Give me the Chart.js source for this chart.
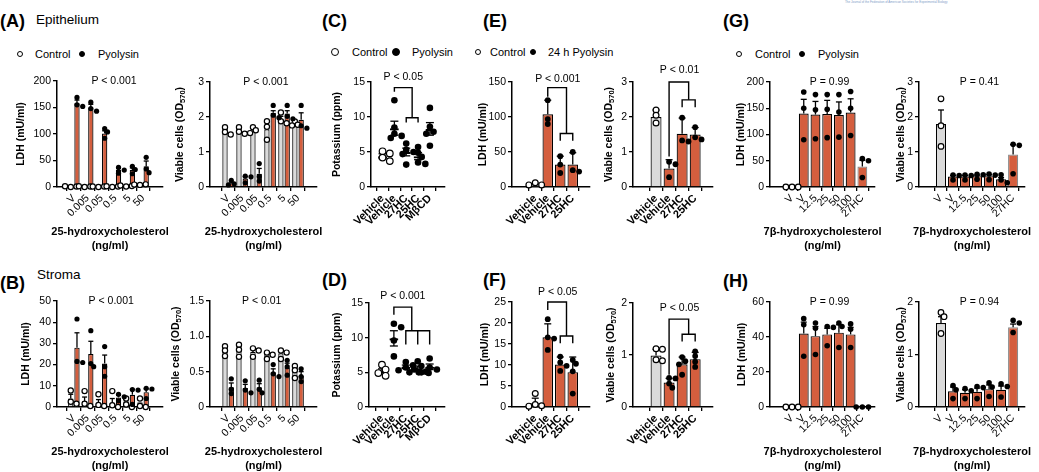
<!DOCTYPE html>
<html>
<head>
<meta charset="utf-8">
<script src="https://cdn.jsdelivr.net/npm/chart.js@4.4.0/dist/chart.umd.min.js"></script>
<style>
body { margin: 0; background: #fff; }
#fig { position: relative; width: 1039px; height: 472px; overflow: hidden; font-family: "Liberation Sans", Arial, sans-serif; color: #000; }
#fig canvas { position: absolute; }
.t { position: absolute; white-space: nowrap; line-height: 1; }
.lab { font-weight: bold; font-size: 18px; }
.sub { font-size: 13.5px; }
.leg { font-size: 11px; }
.mk { position: absolute; border-radius: 50%; border: 1.3px solid #000; box-sizing: border-box; }
</style>
</head>
<body>
<div id="fig">
  <div class="t" style="left:845px;top:1px;font-size:3px;color:#7f9cc8">The Journal of the Federation of American Societies for Experimental Biology</div>

  <div class="t lab" style="left:0;top:12px">(A)</div>
  <div class="t sub" style="left:36px;top:13px">Epithelium</div>
  <div class="t lab" style="left:0;top:274px">(B)</div>
  <div class="t sub" style="left:37px;top:268px">Stroma</div>
  <div class="t lab" style="left:322px;top:12px">(C)</div>
  <div class="t lab" style="left:322px;top:271px">(D)</div>
  <div class="t lab" style="left:483px;top:12px">(E)</div>
  <div class="t lab" style="left:483px;top:271px">(F)</div>
  <div class="t lab" style="left:723px;top:12px">(G)</div>
  <div class="t lab" style="left:723px;top:272px">(H)</div>

  <span class="mk" style="left:17px;top:51px;width:6px;height:6px"></span>
  <div class="t leg" style="left:35px;top:49px">Control</div>
  <span class="mk" style="left:79px;top:51px;width:6px;height:6px;background:#000"></span>
  <div class="t leg" style="left:98px;top:49px">Pyolysin</div>

  <span class="mk" style="left:331px;top:48px;width:8px;height:8px"></span>
  <div class="t leg" style="left:352px;top:47px">Control</div>
  <span class="mk" style="left:392px;top:48px;width:8px;height:8px;background:#000"></span>
  <div class="t leg" style="left:412px;top:47px">Pyolysin</div>

  <span class="mk" style="left:475px;top:49px;width:6px;height:6px"></span>
  <div class="t leg" style="left:490px;top:47px">Control</div>
  <span class="mk" style="left:530px;top:49px;width:6px;height:6px;background:#000"></span>
  <div class="t leg" style="left:548px;top:47px">24 h Pyolysin</div>

  <span class="mk" style="left:736px;top:51px;width:6px;height:6px"></span>
  <div class="t leg" style="left:755px;top:49px">Control</div>
  <span class="mk" style="left:799px;top:51px;width:6px;height:6px;background:#000"></span>
  <div class="t leg" style="left:818px;top:49px">Pyolysin</div>
</div>
<script>
// tick labels
const doseLabels = ['V', '0.005', '0.05', '0.5', '5', '50'];
const drugLabels = ['Vehicle', 'Vehicle', '27HC', '25HC', 'M\u03b2CD'];
const sterolLabels = ['Vehicle', 'Vehicle', '27HC', '25HC'];
const sevenLabels = ['V', 'V', '12.5', '25', '50', '100', '27HC'];

// (A) epithelium LDH
const aLdhCtrl = [1, 1, 1, 1, 2, 4.5];
const aLdhCtrlErr = [0.5, 0.5, 0.5, 0.5, 1, 1];
const aLdhCtrlPts = [[0, 1, 1.5], [0, 1, 1.5], [0, 1, 1], [0, 1, 1.5], [1, 2, 3], [4, 5, 4.5]];
const aLdhPyo = [158, 150, 101, 32, 32, 39];
const aLdhPyoErr = [6, 6, 5, 4, 4, 10];
const aLdhPyoPts = [[169, 155, 152], [160, 148, 143], [110, 104, 92], [37, 32, 26], [39, 33, 25], [56, 34, 27]];
// (A) epithelium viability
const aVivCtrl = [1.59, 1.6, 1.62, 1.65, 1.94, 1.8];
const aVivCtrlErr = [0.05, 0.05, 0.05, 0.2, 0.08, 0.05];
const aVivCtrlPts = [[1.71, 1.57, 1.5], [1.71, 1.58, 1.52], [1.71, 1.62, 1.54], [1.88, 1.72, 1.35], [2.13, 1.88, 1.82], [1.87, 1.78, 1.76]];
const aVivPyo = [0.11, 0.24, 0.38, 2.12, 2.1, 1.92];
const aVivPyoErr = [0.03, 0.06, 0.15, 0.06, 0.08, 0.2];
const aVivPyoPts = [[0.19, 0.09, 0.06], [0.31, 0.29, 0.12], [0.67, 0.3, 0.17], [2.33, 2.05, 1.98], [2.33, 2.02, 1.95], [2.33, 1.75, 1.68]];

// (B) stroma LDH
const bLdhCtrl = [4, 2.7, 2, 2, 1.3, 0.8];
const bLdhCtrlErr = [2, 2, 1.5, 2, 1, 1];
const bLdhCtrlPts = [[7.8, 2.5, 1.5], [7.5, 1.5, 0.5], [6, 1, 0.5], [7.5, 0.8, 0], [4, 1.2, 0], [4, 0.5, 0]];
const bLdhPyo = [28, 25, 20.5, 4.5, 5.8, 7];
const bLdhPyoErr = [7, 6, 4, 1, 2.5, 1.5];
const bLdhPyoPts = [[41.5, 21.5, 21], [36, 20.5, 19], [28.5, 19, 14.5], [6, 4.8, 2.9], [8.2, 8, 1.2], [8.8, 8.5, 4]];
// (B) stroma viability
const bVivCtrl = [0.79, 0.8, 0.78, 0.75, 0.76, 0.5];
const bVivCtrlErr = [0.04, 0.05, 0.04, 0.03, 0.04, 0.05];
const bVivCtrlPts = [[0.86, 0.8, 0.72], [0.88, 0.81, 0.71], [0.83, 0.8, 0.71], [0.77, 0.74, 0.68], [0.8, 0.77, 0.68], [0.58, 0.52, 0.41]];
const bVivPyo = [0.28, 0.27, 0.28, 0.49, 0.56, 0.44];
const bVivPyoErr = [0.06, 0.05, 0.05, 0.05, 0.06, 0.06];
const bVivPyoPts = [[0.4, 0.25, 0.19], [0.37, 0.24, 0.2], [0.38, 0.25, 0.2], [0.6, 0.47, 0.43], [0.66, 0.57, 0.45], [0.54, 0.43, 0.36]];

// (C) epithelium potassium
const cMean = [4.4, 8.4, 5.0, 4.4, 8.3];
const cErr = [0.35, 1.0, 0.55, 0.5, 0.9];
const cPts = [[5.1, 4.8, 4.2, 3.7], [12.4, 8.5, 7.6, 7.3, 7.0], [6.2, 5.3, 5.0, 4.7, 3.2], [5.7, 4.9, 4.3, 3.5, 3.3], [11.3, 8.6, 7.9, 7.6, 5.9]];
// (D) stroma potassium
const dMean = [5.2, 9.9, 5.8, 5.6, 5.8];
const dErr = [0.3, 1.1, 0.25, 0.3, 0.4];
const dPts = [[6.1, 5.4, 4.9, 4.5], [12.0, 11.5, 9.6, 7.3], [6.5, 6.0, 5.7, 5.3, 5.0], [6.6, 5.9, 5.4, 5.0, 4.9], [7.0, 5.7, 5.4, 5.1, 5.0]];

// (E) epithelium, oxysterols
const eLdh = [4, 104, 32, 32];
const eLdhErr = [1.5, 20, 12, 17];
const eLdhPts = [[6, 3, 3], [124, 97, 90], [44, 32, 20], [50, 24, 22]];
const eViv = [2.0, 0.53, 1.52, 1.5];
const eVivErr = [0.2, 0.25, 0.45, 0.2];
const eVivPts = [[2.2, 2.05, 1.83], [0.72, 0.65, 0.28], [1.98, 1.33, 1.3], [1.71, 1.42, 1.36]];
// (F) stroma, oxysterols
const fLdh = [0.9, 16.6, 10.1, 8.3];
const fLdhErr = [1.2, 3.2, 1.8, 3.6];
const fLdhPts = [[3.2, 0.6, 0.3, 0.2], [20.9, 16.6, 16.3, 13.6], [12.0, 10.6, 9.8, 8.6], [11.2, 10.3, 8.5, 3.2]];
const fViv = [0.99, 0.47, 0.82, 0.92];
const fVivErr = [0.12, 0.08, 0.14, 0.13];
const fVivPts = [[1.12, 1.11, 0.91, 0.89], [0.56, 0.55, 0.45, 0.37], [0.96, 0.88, 0.82, 0.62], [1.07, 0.98, 0.87, 0.77]];

// (G) epithelium, 7b-hydroxycholesterol
const gLdh = [0, 140, 138, 139, 137, 142, 39];
const gLdhErr = [0, 27, 25, 26, 25, 26, 12];
const gLdhPts = [[0, 0, 0], [181, 150, 90], [176, 147, 92], [176, 148, 94], [176, 143, 95], [182, 150, 98], [54, 50, 18]];
const gViv = [1.8, 0.3, 0.3, 0.31, 0.31, 0.22, 0.93];
const gVivErr = [0.4, 0.03, 0.03, 0.03, 0.04, 0.05, 0.28];
const gVivPts = [[2.52, 1.75, 1.16], [0.34, 0.33, 0.2], [0.34, 0.33, 0.2], [0.36, 0.35, 0.22], [0.37, 0.34, 0.21], [0.35, 0.2, 0.12], [1.22, 1.19, 0.38]];
// (H) stroma, 7b-hydroxycholesterol
const hLdh = [0, 42, 40.5, 41.5, 42.5, 41.5, 0];
const hLdhErr = [0, 6.5, 5.5, 3.5, 4.5, 4, 0];
const hLdhPts = [[0, 0, 0], [50.5, 47, 29], [48, 45, 30], [46, 45.5, 35], [48, 46, 34], [47.5, 44.5, 34], [0, 0, 0]];
const hViv = [1.6, 0.3, 0.27, 0.29, 0.34, 0.33, 1.52];
const hVivErr = [0.12, 0.08, 0.06, 0.07, 0.08, 0.07, 0.06];
const hVivPts = [[1.8, 1.72, 1.4], [0.41, 0.33, 0.16], [0.35, 0.31, 0.16], [0.39, 0.37, 0.16], [0.46, 0.38, 0.2], [0.44, 0.39, 0.19], [1.65, 1.6, 1.42]];

const ORANGE = '#d45e3e';
const GREY = '#dadada';
const FONT = '"Liberation Sans", Arial, sans-serif';
const fig = document.getElementById('fig');
Chart.defaults.font.family = FONT;
Chart.defaults.color = '#000';

const firstGrey = n => [GREY].concat(Array(n - 1).fill(ORANGE));
const firstOpen = n => [true].concat(Array(n - 1).fill(false));

// place overlapping points side by side, like a column scatter
function spread(py, r) {
  const placed = [];
  return py.map(y => {
    for (let k = 0; k < 9; k++) {
      const off = (k % 2 ? 1 : -1) * Math.ceil(k / 2) * r * 1.1;
      if (placed.every(p => Math.hypot(p[0] - off, p[1] - y) >= 1.6 * r)) {
        placed.push([off, y]);
        return off;
      }
    }
    placed.push([0, y]);
    return 0;
  });
}

const marks = {
  id: 'marks',
  afterDatasetsDraw(chart, args, o) {
    const ctx = chart.ctx, xs = chart.scales.x, ys = chart.scales.y, a = chart.chartArea;
    const seg = pts => {
      ctx.beginPath();
      pts.forEach((p, k) => k ? ctx.lineTo(p[0], p[1]) : ctx.moveTo(p[0], p[1]));
      ctx.stroke();
    };
    const metas = chart.data.datasets.map((ds, di) => chart.getDatasetMeta(di));
    ctx.save();
    ctx.strokeStyle = '#000';
    ctx.lineWidth = 1.3;
    // error bars
    chart.data.datasets.forEach((ds, di) => metas[di].data.forEach((bar, i) => {
      const e = ds.err[i], m = ds.data[i].y;
      if (!e) return;
      const top = ys.getPixelForValue(m + e), lo = ys.getPixelForValue(o.both ? m - e : m);
      ctx.lineWidth = 1.3;
      seg([[bar.x, lo], [bar.x, top]]);
      seg([[bar.x - o.cap, top], [bar.x + o.cap, top]]);
      if (o.both) seg([[bar.x - o.cap, lo], [bar.x + o.cap, lo]]);
    }));
    // individual values
    chart.data.datasets.forEach((ds, di) => metas[di].data.forEach((bar, i) => {
      const open = Array.isArray(ds.open) ? ds.open[i] : ds.open;
      const py = ds.pts[i].map(v => ys.getPixelForValue(v));
      const offs = spread(py, o.r);
      py.forEach((y, k) => {
        ctx.beginPath();
        ctx.arc(bar.x + offs[k], y, o.r, 0, Math.PI * 2);
        ctx.fillStyle = open ? '#fff' : '#000';
        ctx.fill();
        if (open) { ctx.lineWidth = 1.2; ctx.stroke(); }
      });
    }));
    // comparison brackets
    ctx.lineWidth = 1.4;
    (o.brackets || []).forEach(b => seg(b.map(p => [xs.getPixelForValue(p[0]), ys.getPixelForValue(p[1])])));
    // P value
    ctx.fillStyle = '#000';
    ctx.textBaseline = 'middle';
    ctx.textAlign = 'center';
    ctx.font = '10.5px ' + FONT;
    ctx.fillText(o.p.text, xs.getPixelForValue(o.p.x), ys.getPixelForValue(o.p.y));
    // x title
    ctx.font = 'bold 11px ' + FONT;
    (o.xTitle || []).forEach((t, k) => ctx.fillText(t, (a.left + a.right) / 2, a.bottom + 45 + k * 13.5));
    // y title (with subscript)
    const yt = o.yTitle;
    ctx.translate(a.left - yt.off, (a.top + a.bottom) / 2);
    ctx.rotate(-Math.PI / 2);
    const fMain = 'bold 10.5px ' + FONT, fSub = 'bold 7.5px ' + FONT;
    ctx.font = fMain;
    const w1 = ctx.measureText(yt.text).width, w3 = yt.sub ? ctx.measureText(')').width : 0;
    ctx.font = fSub;
    const w2 = yt.sub ? ctx.measureText(yt.sub).width : 0;
    let x = -(w1 + w2 + w3) / 2;
    ctx.textAlign = 'left';
    ctx.font = fMain;
    ctx.fillText(yt.text, x, 0);
    if (yt.sub) {
      x += w1;
      ctx.font = fSub;
      ctx.fillText(yt.sub, x, 3);
      x += w2;
      ctx.font = fMain;
      ctx.fillText(')', x, 0);
    }
    ctx.restore();
  }
};

function makeChart(o) {
  const L = 60, T = 34, R = 12, B = 80;
  const [x0, x1, y0, y1] = o.box;
  const w = x1 - x0 + L + R, h = y1 - y0 + T + B;
  const cv = document.createElement('canvas');
  cv.width = w; cv.height = h;
  cv.style.left = (x0 - L) + 'px';
  cv.style.top = (y0 - T) + 'px';
  cv.style.width = w + 'px';
  cv.style.height = h + 'px';
  fig.appendChild(cv);

  const datasets = o.series.map(s => ({
    data: s.means.map((v, i) => ({ x: i, y: v })),
    backgroundColor: o.dots ? 'rgba(0,0,0,0)' : s.fill,
    borderColor: s.edge || '#000',
    borderWidth: o.dots ? { top: 2, left: 0, right: 0, bottom: 0 } : 1.2,
    borderSkipped: o.dots ? false : 'start',
    barPercentage: o.barPct,
    categoryPercentage: o.catPct,
    err: s.err, pts: s.pts, open: s.open
  }));

  new Chart(cv, {
    type: 'bar',
    data: { datasets },
    options: {
      responsive: false,
      animation: false,
      layout: { padding: { left: 0, top: T, right: R, bottom: 0 } },
      plugins: {
        legend: { display: false },
        tooltip: { enabled: false },
        marks: {
          both: !!o.dots, cap: o.cap, r: o.r, p: o.p,
          brackets: o.brackets, yTitle: o.yTitle, xTitle: o.xTitle
        }
      },
      scales: {
        x: {
          type: 'linear', bounds: 'data', min: o.xr[0], max: o.xr[1],
          afterBuildTicks: s => { s.ticks = o.labels.map((_, i) => ({ value: i })); },
          afterFit: s => { s.height = B; },
          ticks: {
            autoSkip: false, minRotation: 45, maxRotation: 45, padding: 1,
            font: { size: o.boldTicks ? 11 : 10.5, weight: o.boldTicks ? 'bold' : 'normal' },
            callback: v => o.labels[v]
          },
          grid: { drawOnChartArea: false, drawTicks: true, tickLength: 4, color: '#000', lineWidth: 1.3 },
          border: { color: '#000', width: 1.5 }
        },
        y: {
          min: 0, max: o.yMax,
          afterFit: s => { s.width = L; },
          ticks: {
            stepSize: o.yStep, padding: 2, font: { size: 10.5 },
            callback: v => (o.dec && v !== 0) ? v.toFixed(1) : v
          },
          grid: { drawOnChartArea: false, drawTicks: true, tickLength: 4, color: '#000', lineWidth: 1.3 },
          border: { color: '#000', width: 1.5 }
        }
      }
    },
    plugins: [marks]
  });
}

const hcTitle = ['25-hydroxycholesterol', '(ng/ml)'];
const bhcTitle = ['7\u03b2-hydroxycholesterol', '(ng/ml)'];
const ldhTitle = off => ({ text: 'LDH (mU/ml)', off });
const vivTitle = off => ({ text: 'Viable cells (OD', sub: '570', off });
const grouped = { catPct: 0.9, barPct: 0.85, cap: 2.5, r: 2.6 };
const single = { catPct: 1, barPct: 0.84, cap: 3.5, r: 2.9 };

// (A)
makeChart(Object.assign({}, grouped, {
  box: [57, 163, 81, 187], xr: [-0.58, 5.8], labels: doseLabels, yMax: 200, yStep: 50,
  series: [
    { means: aLdhCtrl, err: aLdhCtrlErr, pts: aLdhCtrlPts, fill: GREY, open: true },
    { means: aLdhPyo, err: aLdhPyoErr, pts: aLdhPyoPts, fill: ORANGE, open: false }
  ],
  p: { text: 'P < 0.001', x: 2.9, y: 200 }, yTitle: ldhTitle(36), xTitle: hcTitle
}));
makeChart(Object.assign({}, grouped, {
  box: [210, 317, 82, 187], xr: [-0.66, 5.72], labels: doseLabels, yMax: 3, yStep: 1,
  series: [
    { means: aVivCtrl, err: aVivCtrlErr, pts: aVivCtrlPts, fill: GREY, open: true },
    { means: aVivPyo, err: aVivPyoErr, pts: aVivPyoPts, fill: ORANGE, open: false }
  ],
  p: { text: 'P < 0.001', x: 2.7, y: 3 }, yTitle: vivTitle(30), xTitle: hcTitle
}));
// (B)
makeChart(Object.assign({}, grouped, {
  box: [57, 163, 301, 407], xr: [-0.58, 5.8], labels: doseLabels, yMax: 50, yStep: 10,
  series: [
    { means: bLdhCtrl, err: bLdhCtrlErr, pts: bLdhCtrlPts, fill: GREY, open: true },
    { means: bLdhPyo, err: bLdhPyoErr, pts: bLdhPyoPts, fill: ORANGE, open: false }
  ],
  p: { text: 'P < 0.001', x: 2.7, y: 50 }, yTitle: ldhTitle(31), xTitle: hcTitle
}));
makeChart(Object.assign({}, grouped, {
  box: [210, 317, 301, 407], xr: [-0.66, 5.72], labels: doseLabels, yMax: 1.5, yStep: 0.5, dec: true,
  series: [
    { means: bVivCtrl, err: bVivCtrlErr, pts: bVivCtrlPts, fill: GREY, open: true },
    { means: bVivPyo, err: bVivPyoErr, pts: bVivPyoPts, fill: ORANGE, open: false }
  ],
  p: { text: 'P < 0.01', x: 2.4, y: 1.5 }, yTitle: vivTitle(34), xTitle: hcTitle
}));
// (C) and (D)
makeChart({
  box: [371, 445, 82, 187], xr: [-0.35, 4.65], labels: drugLabels, yMax: 15, yStep: 5,
  dots: true, catPct: 1, barPct: 0.75, cap: 4, r: 3.3, boldTicks: true,
  series: [{ means: cMean, err: cErr, pts: cPts, open: firstOpen(5) }],
  brackets: [[[1, 13.6], [1, 14.2], [2.5, 14.2], [2.5, 9.9]], [[2, 9.2], [2, 9.9], [3, 9.9], [3, 9.2]]],
  p: { text: 'P < 0.05', x: 1.75, y: 15.7 }, yTitle: { text: 'Potassium (ppm)', off: 34 }
});
makeChart({
  box: [369, 445, 303, 407], xr: [-0.45, 4.65], labels: drugLabels, yMax: 15, yStep: 5,
  dots: true, catPct: 1, barPct: 0.75, cap: 4, r: 3.3, boldTicks: true,
  series: [{ means: dMean, err: dErr, pts: dPts, open: firstOpen(5) }],
  brackets: [[[1, 13.3], [1, 14.4], [2.5, 14.4], [2.5, 11.0]], [[2, 9.0], [2, 11.0], [4, 11.0], [4, 9.0]], [[3, 11.0], [3, 9.0]]],
  p: { text: 'P < 0.001', x: 1.75, y: 16.0 }, yTitle: { text: 'Potassium (ppm)', off: 32 }
});
// (E)
makeChart(Object.assign({}, single, {
  box: [512, 590, 82, 187], xr: [-1.08, 3.6], labels: sterolLabels, yMax: 150, yStep: 50, boldTicks: true,
  series: [{ means: eLdh, err: eLdhErr, pts: eLdhPts, fill: firstGrey(4), open: firstOpen(4) }],
  brackets: [[[1, 129], [1, 142], [2.5, 142], [2.5, 76.5]], [[2, 66], [2, 76.5], [3, 76.5], [3, 66]]],
  p: { text: 'P < 0.001', x: 1.8, y: 154 }, yTitle: ldhTitle(29)
}));
makeChart(Object.assign({}, single, {
  box: [633, 713, 82, 187], xr: [-1.0, 3.6], labels: sterolLabels, yMax: 3, yStep: 1, boldTicks: true,
  series: [{ means: eViv, err: eVivErr, pts: eVivPts, fill: firstGrey(4), open: firstOpen(4) }],
  brackets: [[[1, 0.87], [1, 3.0], [2.5, 3.0], [2.5, 2.49]], [[2, 2.28], [2, 2.49], [3, 2.49], [3, 2.28]]],
  p: { text: 'P < 0.01', x: 1.8, y: 3.33 }, yTitle: vivTitle(24)
}));
// (F)
makeChart(Object.assign({}, single, {
  box: [512, 590, 302, 407], xr: [-1.08, 3.6], labels: sterolLabels, yMax: 25, yStep: 5, boldTicks: true,
  series: [{ means: fLdh, err: fLdhErr, pts: fLdhPts, fill: firstGrey(4), open: firstOpen(4) }],
  brackets: [[[1, 23.1], [1, 25], [2.5, 25], [2.5, 16.9]], [[2, 15.2], [2, 16.9], [3, 16.9], [3, 15.2]]],
  p: { text: 'P < 0.05', x: 1.8, y: 27.4 }, yTitle: ldhTitle(27)
}));
makeChart(Object.assign({}, single, {
  box: [633, 713, 303, 407], xr: [-1.0, 3.6], labels: sterolLabels, yMax: 2, yStep: 1, boldTicks: true,
  series: [{ means: fViv, err: fVivErr, pts: fVivPts, fill: firstGrey(4), open: firstOpen(4) }],
  brackets: [[[1, 0.62], [1, 1.69], [2.5, 1.69], [2.5, 1.4]], [[2, 1.26], [2, 1.4], [3, 1.4], [3, 1.26]]],
  p: { text: 'P < 0.05', x: 1.8, y: 1.9 }, yTitle: vivTitle(22)
}));
// (G)
const gEdge = ['#000', '#000', '#000', '#000', '#000', '#000', '#8a8a8a'];
makeChart(Object.assign({}, single, {
  box: [770, 875, 82, 187], xr: [-1.24, 6.44], labels: sevenLabels, yMax: 200, yStep: 50, r: 2.8, cap: 3,
  series: [{ means: gLdh, err: gLdhErr, pts: gLdhPts, fill: firstGrey(7), edge: gEdge, open: firstOpen(7) }],
  p: { text: 'P = 0.99', x: 3.2, y: 200 }, yTitle: ldhTitle(29), xTitle: bhcTitle
}));
makeChart(Object.assign({}, single, {
  box: [919, 1025, 82, 187], xr: [-1.2, 6.36], labels: sevenLabels, yMax: 3, yStep: 1, r: 2.8, cap: 3,
  series: [{ means: gViv, err: gVivErr, pts: gVivPts, fill: firstGrey(7), edge: gEdge, open: firstOpen(7) }],
  p: { text: 'P = 0.41', x: 3.2, y: 3 }, yTitle: vivTitle(18), xTitle: bhcTitle
}));
// (H)
makeChart(Object.assign({}, single, {
  box: [770, 875, 302, 407], xr: [-1.24, 6.44], labels: sevenLabels, yMax: 60, yStep: 20, r: 2.8, cap: 3,
  series: [{ means: hLdh, err: hLdhErr, pts: hLdhPts, fill: firstGrey(7), edge: gEdge, open: firstOpen(7) }],
  p: { text: 'P = 0.99', x: 3.2, y: 60 }, yTitle: ldhTitle(28), xTitle: bhcTitle
}));
makeChart(Object.assign({}, single, {
  box: [919, 1025, 302, 407], xr: [-1.2, 6.36], labels: sevenLabels, yMax: 2, yStep: 1, r: 2.8, cap: 3,
  series: [{ means: hViv, err: hVivErr, pts: hVivPts, fill: firstGrey(7), edge: gEdge, open: firstOpen(7) }],
  p: { text: 'P = 0.94', x: 3.2, y: 2 }, yTitle: vivTitle(18), xTitle: bhcTitle
}));
</script>
</body>
</html>
